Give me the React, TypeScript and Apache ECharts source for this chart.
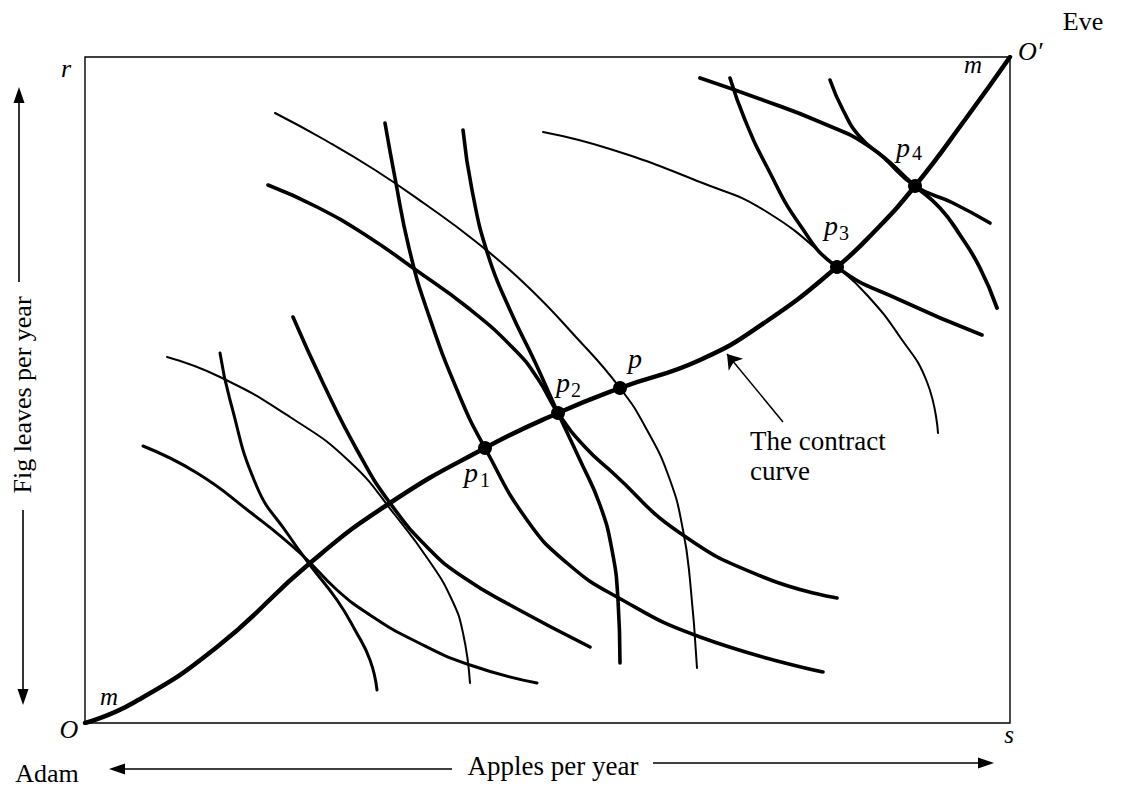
import React, { useEffect, useRef } from "react";
import * as echarts from "echarts";

// Box extent in arbitrary units (apples across, fig leaves up)
const APPLES_MAX = 92.5;
const FIGS_MAX = 66.6;

// The contract curve, from Adam's origin O to Eve's origin O'
const contractCurve = [
  [0, 0], [4.8, 2.0], [13.2, 7.6], [22.5, 16.0], [30.5, 22.0], [40.0, 27.5],
  [47.3, 31.0], [53.5, 33.5], [61.5, 36.3], [68.2, 40.2], [75.2, 45.6], [78.8, 49.0],
  [83.0, 53.7], [88.2, 60.6], [92.5, 66.6],
];

// Indifference curves (Adam's bow toward O, Eve's toward O')
const adamCurveA1 = [
  [5.8, 27.7], [11.2, 25.0], [16.5, 21.1], [21.5, 17.0], [25.2, 13.3], [28.5, 10.8],
  [32.8, 8.3], [38.5, 5.8], [45.2, 4.0],
];
const eveCurveE0 = [
  [13.5, 37.0], [14.5, 32.3], [17.2, 23.6], [20.2, 19.0], [22.5, 15.8], [25.2, 12.3],
  [27.0, 9.3], [28.5, 6.3], [29.2, 3.3],
];
const eveCurveC = [
  [8.2, 36.6], [13.5, 34.6], [20.5, 30.6], [26.5, 26.1], [31.0, 20.8], [34.5, 16.1],
  [36.7, 12.3], [37.8, 9.0], [38.5, 4.0],
];
const adamCurveB = [
  [20.8, 40.6], [23.8, 34.0], [27.2, 27.3], [30.5, 22.0], [34.5, 17.3], [37.8, 14.6],
  [42.5, 11.8], [50.5, 7.6],
];
const adamCurveP1 = [
  [30.0, 60.0], [31.0, 54.5], [32.4, 47.5], [34.3, 41.0], [37.5, 32.6], [40.0, 27.5],
  [44.2, 20.3], [48.2, 16.0], [53.2, 12.6], [61.5, 8.6], [73.8, 5.1],
];
const adamCurveP2 = [
  [18.3, 53.8], [23.2, 51.6], [28.2, 48.7], [32.8, 45.5], [38.2, 41.6], [43.0, 37.3],
  [45.3, 34.4], [47.3, 31.0], [50.0, 27.6], [52.8, 25.0], [59.5, 19.0], [67.8, 14.6],
  [75.2, 12.5],
];
const eveCurveP2 = [
  [37.8, 59.3], [38.7, 53.3], [40.3, 46.8], [42.5, 41.3], [45.0, 36.1], [47.3, 31.0],
  [49.5, 26.3], [51.5, 21.8], [52.7, 17.3], [53.3, 12.3], [53.5, 6.0],
];
const eveCurveP = [
  [19.0, 61.0], [24.0, 58.3], [29.0, 55.3], [34.0, 51.9], [39.0, 48.2], [44.0, 43.9],
  [49.0, 38.7], [53.5, 33.5], [56.2, 29.3], [58.5, 24.3], [59.8, 19.3], [60.5, 14.3],
  [61.2, 5.5],
];
const eveCurveP3 = [
  [45.8, 59.1], [52.5, 57.4], [61.5, 54.1], [68.2, 51.1], [75.2, 45.6], [78.2, 42.8],
  [81.5, 38.6], [84.2, 34.1], [85.3, 29.0],
];
const adamCurveP3 = [
  [64.5, 64.5], [66.0, 60.3], [68.2, 55.6], [71.5, 49.8], [75.2, 45.6], [81.5, 42.3],
  [89.7, 38.8],
];
const eveCurveP4 = [
  [61.5, 64.5], [67.5, 62.4], [73.5, 60.1], [78.5, 57.6], [83.0, 53.7], [85.5, 51.5],
  [87.5, 48.8], [89.5, 45.5], [91.2, 41.5],
];
const adamCurveP4 = [
  [74.5, 64.3], [75.8, 61.3], [77.5, 58.6], [79.8, 56.6], [83.0, 53.7], [86.8, 52.0],
  [90.5, 50.0],
];

// Marked allocations
const pointNames = ["p1", "p2", "p", "p3", "p4"];
const pointValues = [
  [40.0, 27.5], [47.3, 31.0], [53.5, 33.5], [75.2, 45.6], [83.0, 53.7],
];

// Pointer to the contract curve (tail -> tip)
const contractPointer = [[69.8, 30.1], [64.2, 36.9]];

// Texts
const titleEve = "Eve";
const titleAdam = "Adam";
const xAxisTitle = "Apples per year";
const yAxisTitle = "Fig leaves per year";
const contractLabel = ["The contract", "curve"];

const SERIF = '"Liberation Serif", "Times New Roman", Times, serif';

function txt(text: string, x: number, y: number, size: number, italic = false, align = "center", rotation = 0) {
  return {
    type: "text",
    x,
    y,
    rotation,
    silent: true,
    z: 20,
    style: {
      text,
      font: `${italic ? "italic " : ""}${size}px ${SERIF}`,
      fill: "#000",
      align,
      verticalAlign: "middle",
      textAlign: align,
      textVerticalAlign: "middle",
    },
  };
}

function arrowLine(x1: number, y1: number, x2: number, y2: number) {
  return {
    type: "line",
    silent: true,
    z: 20,
    shape: { x1, y1, x2, y2 },
    style: { stroke: "#000", lineWidth: 1.6 },
  };
}

function head(points: number[][]) {
  return {
    type: "polygon",
    silent: true,
    z: 20,
    shape: { points },
    style: { fill: "#000" },
  };
}

export default function App() {
  const ref = useRef<HTMLDivElement>(null);

  useEffect(() => {
    if (!ref.current) return;
    const chart = echarts.init(ref.current, null, { renderer: "svg" });

    const curve = (name: string, data: number[][], width: number) => ({
      name,
      type: "line",
      data,
      smooth: 0.5,
      showSymbol: false,
      symbol: "none",
      silent: true,
      z: 3,
      lineStyle: { color: "#000", width, cap: "round", join: "round" },
    });

    const subs = ["1", "2", "", "3", "4"];
    const pPos = [
      [471, 472, 485, 480],
      [563, 382, 576, 390],
      [635, 358, 0, 0],
      [831, 225, 844, 233],
      [903, 147, 917, 153],
    ];
    const pTexts: any[] = [];
    pointNames.forEach((_, i) => {
      pTexts.push(txt("p", pPos[i][0], pPos[i][1], 28, true));
      if (subs[i]) pTexts.push(txt(subs[i], pPos[i][2], pPos[i][3], 20, false));
    });

    chart.setOption({
      animation: false,
      backgroundColor: "#fff",
      grid: {
        left: 85,
        top: 57,
        width: 925,
        height: 666,
        show: true,
        borderColor: "#000",
        borderWidth: 1.4,
        backgroundColor: "transparent",
      },
      xAxis: {
        type: "value",
        min: 0,
        max: APPLES_MAX,
        show: false,
        splitLine: { show: false },
      },
      yAxis: {
        type: "value",
        min: 0,
        max: FIGS_MAX,
        show: false,
        splitLine: { show: false },
      },
      series: [
        curve("Adam A1", adamCurveA1, 3),
        curve("Eve E0", eveCurveE0, 3),
        curve("Eve C", eveCurveC, 2),
        curve("Adam B", adamCurveB, 3.6),
        curve("Adam p1", adamCurveP1, 3.6),
        curve("Adam p2", adamCurveP2, 3.6),
        curve("Eve p2", eveCurveP2, 3.6),
        curve("Eve p", eveCurveP, 2),
        curve("Eve p3", eveCurveP3, 2),
        curve("Adam p3", adamCurveP3, 3.6),
        curve("Eve p4", eveCurveP4, 3.8),
        curve("Adam p4", adamCurveP4, 3.6),
        {
          name: "contract curve",
          type: "line",
          data: contractCurve,
          smooth: 0.5,
          showSymbol: false,
          symbol: "none",
          silent: true,
          z: 4,
          lineStyle: { color: "#000", width: 4.5, cap: "round", join: "round" },
        },
        {
          name: "pointer",
          type: "lines",
          coordinateSystem: "cartesian2d",
          silent: true,
          z: 5,
          symbol: ["none", "arrow"],
          symbolSize: [9, 14],
          lineStyle: { color: "#000", width: 1.5, opacity: 1, curveness: 0 },
          data: [{ coords: contractPointer }],
        },
        {
          name: "allocations",
          type: "scatter",
          data: pointValues.map((v, i) => ({ name: pointNames[i], value: v })),
          symbol: "circle",
          symbolSize: 14,
          silent: true,
          z: 6,
          itemStyle: { color: "#000", opacity: 1 },
        },
      ],
      graphic: [
        txt(titleEve, 1083, 21, 26),
        txt("O\u2032", 1018, 51, 26, true, "left"),
        txt("m", 973, 64, 25, true),
        txt("r", 66, 68, 26, true),
        txt("O", 69, 729, 26, true),
        txt("m", 109, 696, 25, true),
        txt("s", 1009, 734, 25, true),
        txt(titleAdam, 47, 773, 26),
        txt(xAxisTitle, 553, 766, 27),
        txt(yAxisTitle, 22, 395, 26, false, "center", Math.PI / 2),
        txt(contractLabel[0], 750, 441, 27, false, "left"),
        txt(contractLabel[1], 750, 471, 27, false, "left"),
        ...pTexts,
        // horizontal arrows
        arrowLine(452, 769, 122, 769),
        head([[109, 769], [125, 763.5], [125, 774.5]]),
        arrowLine(653, 763, 980, 763),
        head([[994, 763], [978, 757.5], [978, 768.5]]),
        // vertical arrows
        arrowLine(19, 282, 19, 100),
        head([[19, 87], [13.5, 103], [24.5, 103]]),
        arrowLine(23, 510, 23, 692),
        head([[23, 705], [17.5, 689], [28.5, 689]]),
      ],
    });

    return () => chart.dispose();
  }, []);

  return (
    <div
      ref={ref}
      style={{ position: "absolute", left: 0, top: 0, width: 1124, height: 789, background: "#fff" }}
    />
  );
}
